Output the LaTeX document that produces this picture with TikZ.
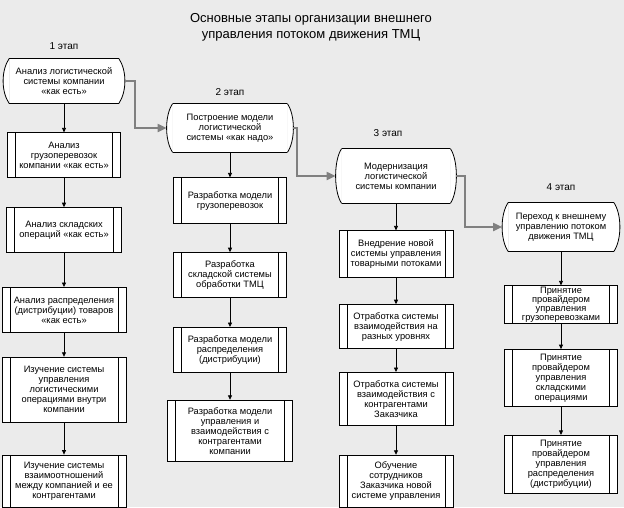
\documentclass[tikz,border=0pt]{standalone}
\usepackage{fontspec}
\setmainfont{Liberation Sans}
\usepackage{xcolor}
\usepackage{tikz}
\usetikzlibrary{positioning, arrows.meta}
\definecolor{bgcol}{HTML}{EBEBEB}
\definecolor{linkcol}{HTML}{808080}
\newcommand{\boxfont}{\fontsize{9.3}{10}\selectfont}
\newcommand{\headfont}{\fontsize{10}{12}\selectfont}

\begin{document}
\begin{tikzpicture}[
  x=1pt, y=1pt,
  stage/.style={fill=white,align=center,font=\boxfont,inner sep=1pt},
  proc/.style={draw,fill=white,align=center,font=\boxfont,inner sep=1pt,
    path picture={\draw ([xshift=8pt]path picture bounding box.north west) -- ([xshift=8pt]path picture bounding box.south west)
      ([xshift=-8pt]path picture bounding box.north east) -- ([xshift=-8pt]path picture bounding box.south east);}},
  head/.style={font=\headfont,inner sep=0pt},
  arrow/.style={-{Triangle[length=4.5pt,width=4pt]},line width=0.8pt},
  link/.style={-{Triangle[length=9pt,width=8pt]},line width=2pt,linkcol},
  line width=0.8pt,
]

\path[use as bounding box,fill=bgcol] (0,0) rectangle (624,-507);

\node[font=\fontsize{13}{16}\selectfont,align=center] (title) at (311,-27)
  {Основные этапы организации внешнего\\управления потоком движения ТМЦ};

% 1 этап
\node[stage,minimum width=109pt,minimum height=44pt] (s1) at (64,-81) {Анализ логистической\\системы компании\\«как есть»};
\node[proc,below=29pt of s1,minimum width=113pt,minimum height=45pt] (b11) {Анализ\\грузоперевозок\\компании «как есть»};
\node[proc,below=29pt of b11,minimum width=115pt,minimum height=45pt] (b12) {Анализ складских\\операций «как есть»};
\node[proc,below=34pt of b12,minimum width=124pt,minimum height=45pt] (b13) {Анализ распределения\\(дистрибуции) товаров\\«как есть»};
\node[proc,below=24pt of b13,minimum width=124pt,minimum height=65pt] (b14) {Изучение системы\\управления\\логистическими\\операциями внутри\\компании};
\node[proc,below=32pt of b14,minimum width=124pt,minimum height=52pt] (b15) {Изучение системы\\взаимоотношений\\между компанией и ее\\контрагентами};

% 2 этап
\node[stage,minimum width=114pt,minimum height=48pt] (s2) at (230,-128) {Построение модели\\логистической\\системы «как надо»};
\node[proc,below=25pt of s2,minimum width=113pt,minimum height=46pt] (b21) {Разработка модели\\грузоперевозок};
\node[proc,below=28pt of b21,minimum width=113pt,minimum height=45pt] (b22) {Разработка\\складской системы\\обработки ТМЦ};
\node[proc,below=29pt of b22,minimum width=113pt,minimum height=45pt] (b23) {Разработка модели\\распределения\\(дистрибуции)};
\node[proc,below=27pt of b23,minimum width=125pt,minimum height=61pt] (b24) {Разработка модели\\управления и\\взаимодействия с\\контрагентами\\компании};

% 3 этап
\node[stage,minimum width=108pt,minimum height=54pt] (s3) at (396,-176) {Модернизация\\логистической\\системы компании};
\node[proc,below=27pt of s3,minimum width=114pt,minimum height=47pt] (b31) {Внедрение новой\\системы управления\\товарными потоками};
\node[proc,below=26pt of b31,minimum width=114pt,minimum height=44pt] (b32) {Отработка системы\\взаимодействия на\\разных уровнях};
\node[proc,below=23pt of b32,minimum width=114pt,minimum height=53pt] (b33) {Отработка системы\\взаимодействия с\\контрагентами\\Заказчика};
\node[proc,below=29pt of b33,minimum width=114pt,minimum height=52pt] (b34) {Обучение\\сотрудников\\Заказчика новой\\системе управления};

% 4 этап
\node[stage,minimum width=105pt,minimum height=48pt] (s4) at (561,-227) {Переход к внешнему\\управлению потоком\\движения ТМЦ};
\node[proc,below=34pt of s4,minimum width=113pt,minimum height=37pt,font=\fontsize{9.3}{9.2}\selectfont] (b41) {Принятие\\провайдером\\управления\\грузоперевозками};
\node[proc,below=25pt of b41,minimum width=113pt,minimum height=57pt] (b42) {Принятие\\провайдером\\управления\\складскими\\операциями};
\node[proc,below=28pt of b42,minimum width=113pt,minimum height=58pt] (b43) {Принятие\\провайдером\\управления\\распределения\\(дистрибуции)};

% заголовки этапов
\node[head,above=9pt of s1] (h1) {1 этап};
\node[head,above=8pt of s2] (h2) {2 этап};
\node[head,above=12pt of s3,xshift=-8pt] (h3) {3 этап};
\node[head,above=12pt of s4] (h4) {4 этап};

% скругленные края начальных блоков
\foreach \s in {s1,s2,s3,s4} {
  \draw[fill=white] (\s.north east) .. controls +(8pt,-12pt) and +(8pt,12pt) .. (\s.south east);
  \draw[fill=white] (\s.north west) .. controls +(-8pt,-12pt) and +(-8pt,12pt) .. (\s.south west);
  \draw (\s.north west) -- (\s.north east) (\s.south west) -- (\s.south east);
}

\draw[arrow] (s1) -- (b11);
\foreach \i/\j in {11/12,12/13,13/14,14/15,21/22,22/23,23/24,31/32,32/33,33/34,41/42,42/43} {
  \draw[arrow] (b\i) -- (b\j);
}
\draw[arrow] (s2) -- (b21);
\draw[arrow] (s3) -- (b31);
\draw[arrow] (s4) -- (b41);

\draw[link] ([xshift=6pt]s1.east) -- ++(10pt,0) |- ([xshift=-6pt]s2.west);
\draw[link] ([xshift=6pt]s2.east) -- ++(4pt,0) |- ([xshift=-6pt]s3.west);
\draw[link] ([xshift=6pt]s3.east) -- ++(9pt,0) |- ([xshift=-6pt]s4.west);

\end{tikzpicture}
\end{document}
